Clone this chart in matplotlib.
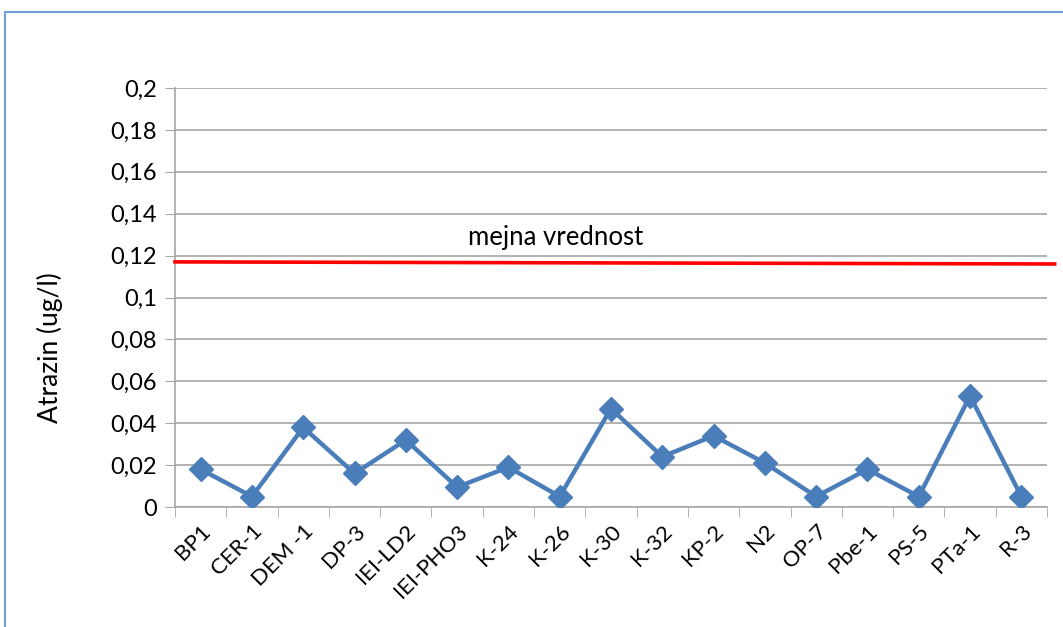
import matplotlib
matplotlib.use("Agg")
import matplotlib.pyplot as plt
from matplotlib.patches import Rectangle
import numpy as np

# data
sites = ["BP1", "CER-1", "DEM -1", "DP-3", "IEI-LD2", "IEI-PHO3", "K-24", "K-26",
         "K-30", "K-32", "KP-2", "N2", "OP-7", "Pbe-1", "PS-5", "PTa-1", "R-3"]
atrazin = [0.018, 0.005, 0.038, 0.016, 0.032, 0.0095, 0.019, 0.005,
           0.047, 0.024, 0.034, 0.021, 0.005, 0.018, 0.005, 0.053, 0.005]
limit_value = [0.117, 0.116]
y_ticks = [0, 0.02, 0.04, 0.06, 0.08, 0.1, 0.12, 0.14, 0.16, 0.18, 0.2]
y_tick_labels = ["0", "0,02", "0,04", "0,06", "0,08", "0,1", "0,12", "0,14", "0,16", "0,18", "0,2"]

plt.rcParams['font.family'] = ['Lato', 'DejaVu Sans']

W, H = 1063, 627
fig = plt.figure(figsize=(W / 100, H / 100), dpi=100)
ax = fig.add_axes([175 / W, 1 - 507 / H, (1047 - 175) / W, (507 - 88) / H])

# outer chart border (light blue)
fig.patches.append(Rectangle((5 / W, -0.05), 1.2, 1 - 12 / H + 0.05,
                             transform=fig.transFigure, fill=False,
                             edgecolor='#6fa0dc', linewidth=1.5))

x = np.arange(len(sites))
ax.plot(x, atrazin, color='#4a7ebb', linewidth=3.2, marker='D', markersize=12,
        markerfacecolor='#4a7ebb', markeredgecolor='#4a7ebb', zorder=3)

# limit line, runs a bit past the plot area
ax.plot([-0.5, len(sites) - 0.35], limit_value, color='#ff0000', linewidth=2.6,
        clip_on=False, zorder=4)
ax.text(6.93, 0.1285, "mejna vrednost", fontsize=18.5, ha='center', va='center')

ax.set_xlim(-0.5, len(sites) - 0.5)
ax.set_ylim(0, 0.2)
ax.set_yticks(y_ticks)
ax.set_yticklabels(y_tick_labels, fontsize=17)
ax.yaxis.grid(True, color='#a6a6a6', linewidth=1.2)
ax.set_axisbelow(True)

ax.set_xticks(x)
ax.set_xticklabels(sites, rotation=45, ha='right', rotation_mode='anchor', fontsize=16)
ax.tick_params(axis='x', length=0, pad=10)
ax.set_xticks(np.arange(-0.5, len(sites), 1), minor=True)
ax.tick_params(axis='x', which='minor', length=7, color='#a6a6a6')
ax.tick_params(axis='y', length=7, color='#a6a6a6', pad=6)

for s in ['top', 'right']:
    ax.spines[s].set_visible(False)
for s in ['left', 'bottom']:
    ax.spines[s].set_color('#a6a6a6')
    ax.spines[s].set_linewidth(1.2)

fig.text(50 / W, 1 - 348 / H, "Atrazin (ug/l)", rotation=90, fontsize=19,
         ha='center', va='center')

fig.savefig("out.png", dpi=100)
